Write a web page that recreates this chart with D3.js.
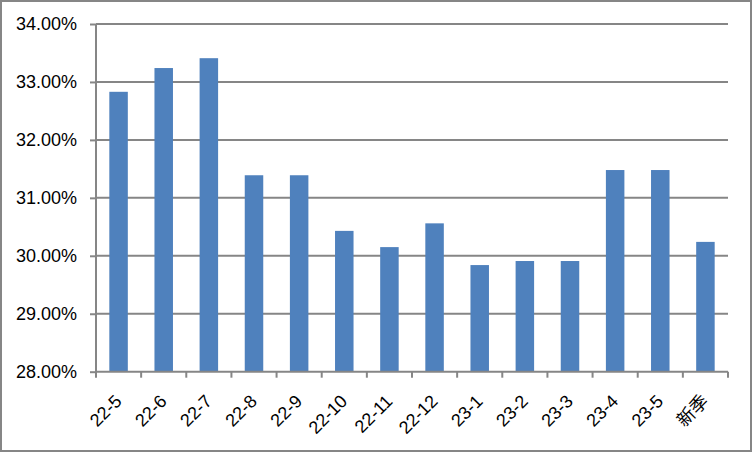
<!DOCTYPE html>
<html><head><meta charset="utf-8">
<script src="https://cdn.jsdelivr.net/npm/d3@7"></script>
<style>
html,body{margin:0;padding:0;background:#fff;}
svg{display:block;}
text{font-family:"Liberation Sans",Arial,sans-serif;fill:#000;}
</style></head>
<body>
<svg id="chart" width="752" height="452"></svg>
<script>
const categories = ["22-5","22-6","22-7","22-8","22-9","22-10","22-11","22-12","23-1","23-2","23-3","23-4","23-5","新季"];
const values = [32.83,33.24,33.41,31.39,31.39,30.43,30.15,30.56,29.84,29.91,29.91,31.48,31.48,30.24];
const yTicks = [28,29,30,31,32,33,34];

(function(){
const svg = d3.select("#chart");
const W = 752, H = 452;
const gray = "#868686";
const fs = "18px";

svg.append("rect").attr("x",1).attr("y",1).attr("width",W-2).attr("height",H-2)
  .attr("fill","#fff").attr("stroke",gray).attr("stroke-width",2);

const pLeft = 96, pRight = 728, pTop = 24, pBottom = 371.7;
const xb = d3.scaleBand().domain(categories).range([pLeft,pRight]);
const y = d3.scaleLinear().domain([28,34]).range([pBottom,pTop]);

// gridlines
svg.append("g").selectAll("line").data(yTicks.slice(1)).join("line")
  .attr("x1",pLeft).attr("x2",pRight)
  .attr("y1",d=>y(d)).attr("y2",d=>y(d))
  .attr("stroke",gray).attr("stroke-width",2);

// bars
svg.append("g").selectAll("rect").data(values).join("rect")
  .attr("x",(d,i)=>xb(categories[i]) + xb.bandwidth()/2 - 9.25)
  .attr("width",18.5)
  .attr("y",d=>y(d))
  .attr("height",d=>y(28)-y(d))
  .attr("fill","#4F81BD");

// y axis
const yAxis = d3.axisLeft(y).tickValues(yTicks).tickSize(6).tickPadding(13)
  .tickFormat(d=>d3.format(".2f")(d)+"%");
const gy = svg.append("g").attr("transform",`translate(${pLeft},0)`).call(yAxis);
gy.select(".domain").attr("stroke",gray).attr("stroke-width",2).attr("d",`M0,${pTop}V${pBottom}`);
gy.selectAll(".tick line").attr("stroke",gray).attr("stroke-width",2);
gy.selectAll(".tick text").style("font-size",fs).attr("fill","#000").style("font-family",'"Liberation Sans",Arial,sans-serif');

// x axis
const xAxis = d3.axisBottom(xb).tickSize(0).tickFormat("");
const gx = svg.append("g").attr("transform",`translate(0,${pBottom})`).call(xAxis);
gx.select(".domain").attr("stroke",gray).attr("stroke-width",2).attr("d",`M${pLeft-1},0H${pRight}`);
gx.selectAll(".tick").remove();
const edges = categories.map(c=>xb(c)).concat([pRight]);
gx.selectAll("line.edge").data(edges).join("line").attr("class","edge")
  .attr("x1",d=>d).attr("x2",d=>d).attr("y1",0).attr("y2",6)
  .attr("stroke",gray).attr("stroke-width",2);

svg.append("g").selectAll("text").data(categories).join("text")
  .attr("transform",d=>`translate(${xb(d)+xb.bandwidth()/2-5},${pBottom+21.5}) rotate(-45)`)
  .attr("text-anchor","end")
  .attr("dy","0.72em")
  .style("font-size",fs)
  .style("font-family",d=>/[^\x00-\x7F]/.test(d)?'"Noto Sans CJK SC",sans-serif':'"Liberation Sans",Arial,sans-serif')
  .text(d=>d);
})();
</script>
</body></html>
